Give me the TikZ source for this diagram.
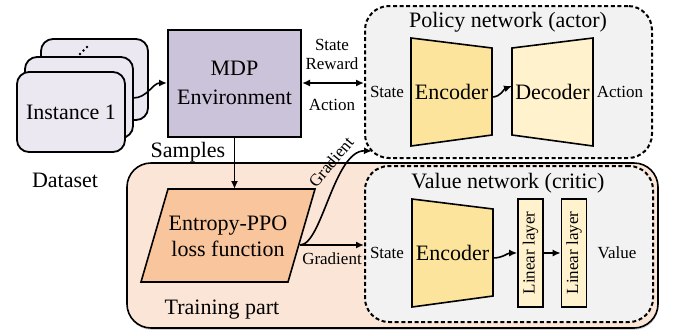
\documentclass[tikz,border=0pt]{standalone}
\usepackage{fontspec}
\setmainfont{Liberation Serif}
\usetikzlibrary{arrows.meta, positioning, shadows}

\definecolor{cardfill}{HTML}{ECE8F2}
\definecolor{mdpfill}{HTML}{CBC3DA}
\definecolor{netfill}{HTML}{F2F2F2}
\definecolor{trainfill}{HTML}{FBE5D6}
\definecolor{lossfill}{HTML}{F8C59D}
\definecolor{encfill}{HTML}{FCE49C}
\definecolor{decfill}{HTML}{FFF2CC}

\begin{document}
\begin{tikzpicture}[x=0.5pt, y=-0.5pt, font=\fontsize{11}{13}\selectfont,
    card/.style={draw, line width=0.9pt, rounded corners=6pt, fill=cardfill},
    netbox/.style={draw, line width=1pt, dash pattern=on 2pt off 1.3pt,
      rounded corners=12pt, fill=netfill, inner sep=0pt},
    trap/.style={draw, line width=0.8pt},
    linbox/.style={draw, line width=0.8pt, fill=decfill, rotate=90,
      minimum width=54pt, minimum height=12.5pt, inner sep=0pt,
      font=\fontsize{8.5}{10}\selectfont},
    small/.style={font=\fontsize{8.5}{9.5}\selectfont},
    arr/.style={-{Latex[length=4pt,width=3.5pt]}, line width=0.8pt}]
    \useasboundingbox (0,0) rectangle (675,333);

    % Dataset
    \draw[card] (41,39) rectangle (148,120);
    \draw[card] (25,57) rectangle (133,138);
    \draw[card] (17,72) rectangle (125,152);
    \foreach \dx/\dy in {80/54, 83.5/50.5, 87/47}
      \fill (\dx,\dy) circle (0.65pt);
    \node (inst1) at (71,112) {Instance 1};
    \node (data) at (65,180) {Dataset};
    \coordinate (card2) at (133,98);

    % MDP environment
    \node[draw, line width=1pt, fill=mdpfill, minimum width=66.5pt,
      minimum height=53.5pt, align=center, inner sep=0pt,
      font=\fontsize{11}{14.5}\selectfont] (mdp) at (234.5,83) {MDP\\Environment};
    \draw[arr] (card2) to[out=0, in=180] (mdp.west);
    \node (samp) at (188,152) {Samples};

    % Training part
    \node[draw, line width=0.8pt, rounded corners=12pt, fill=trainfill,
      drop shadow={shadow xshift=0.3pt, shadow yshift=-0.9pt, opacity=0.35},
      minimum width=265.5pt, minimum height=82.5pt, inner sep=0pt] (train) at (392.5,245.5) {};
    \node (trainlab) at (222,310) {Training part};

    % Policy network
    \node[netbox, minimum width=143.5pt, minimum height=76pt] (pol) at (508.5,82) {};
    \node (poltitle) at (508,22) {Policy network (actor)};
    \draw[trap, fill=encfill] (411,38) -- (492,48) -- (492,135) -- (411,146) -- cycle;
    \draw[trap, fill=decfill] (512,48) -- (593,38) -- (593,146) -- (512,135) -- cycle;
    \node (penc) at (451.5,92) {Encoder};
    \node (pdec) at (552.5,92) {Decoder};
    \coordinate (pencR) at (492,97);
    \coordinate (pdecL) at (512,86);
    \draw[arr] (pencR) to[out=0, in=200] (pdecL);
    \node[small] (pstate) at (387,92) {State};
    \node[small] (paction) at (620,92) {Action};

    % MDP <-> policy
    \draw[{Latex[length=4pt,width=3.5pt]}-{Latex[length=4pt,width=3.5pt]}, line width=0.8pt]
      (mdp.east) -- (mdp.east -| pol.west);
    \node[small, align=center] (sr) at (332,54) {State\\Reward};
    \node[small] (act) at (332,105) {Action};

    % Value network
    \node[netbox, minimum width=144pt, minimum height=78pt] (val) at (509,244) {};
    \node (valtitle) at (508,183) {Value network (critic)};
    \draw[trap, fill=encfill] (412,199) -- (493,209) -- (493,296) -- (412,307) -- cycle;
    \node (venc) at (452.5,253) {Encoder};
    \node[linbox] (lin1) at (530.5,253) {Linear layer};
    \node[linbox] (lin2) at (574,253) {Linear layer};
    \coordinate (vencR) at (493,258);
    \draw[arr] (vencR) to[out=0, in=180] (lin1.north);
    \draw[arr] (lin1.south) -- (lin2.north);
    \node[small] (vstate) at (387,253) {State};
    \node[small] (value) at (617,253) {Value};

    % Loss function
    \draw[line width=0.8pt, fill=lossfill] (168,189) -- (315,189) -- (288,282) -- (141,282) -- cycle;
    \node[align=center] (loss) at (228,236) {Entropy-PPO\\loss function};
    \coordinate (losstop) at (mdp.south |- 0,189);
    \coordinate (lossR) at (300,245);
    \draw[arr] (mdp.south) -- (losstop);
    \draw[arr] (lossR) -- (lossR -| val.west) node[small, midway, below] (gradb) {Gradient};
    \draw[arr] (lossR) .. controls (322,245) and (334,150) .. (372,151);
    \node[small, rotate=50] (grada) at (331,162) {Gradient};
\end{tikzpicture}
\end{document}
